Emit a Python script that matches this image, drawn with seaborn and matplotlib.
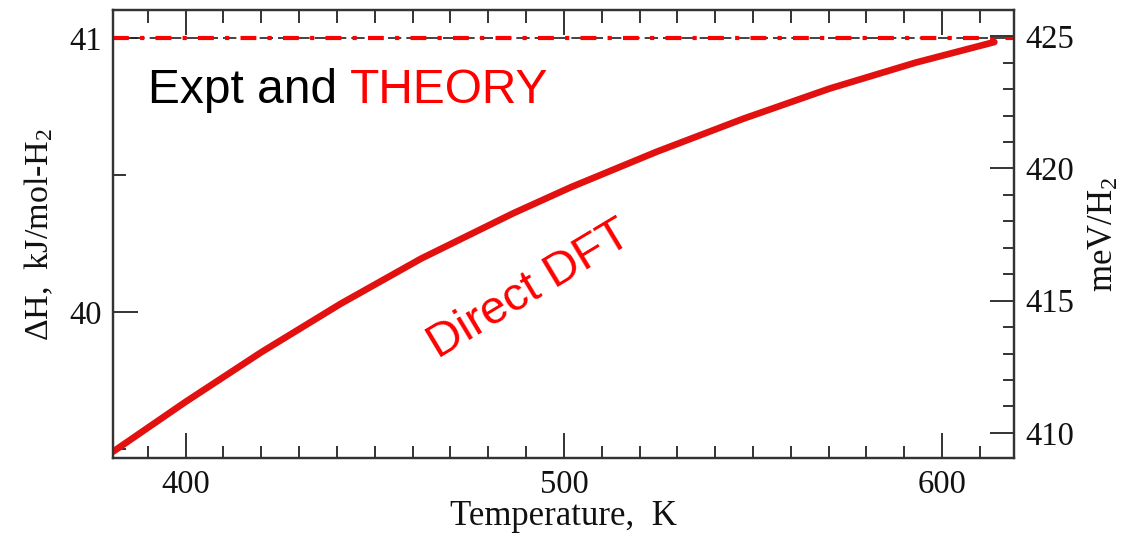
import numpy as np
import pandas as pd
import matplotlib
matplotlib.use("Agg")
import matplotlib.pyplot as plt
from matplotlib.ticker import MultipleLocator, FixedLocator
import seaborn as sns

# ---- data ----
temperature_K = [380.8, 400.0, 420.0, 441.0, 462.3, 486.6, 501.8, 524.6, 547.4, 570.2, 593.0, 613.8]
delta_h_kj = [39.49, 39.672, 39.853, 40.030, 40.195, 40.36, 40.455, 40.585, 40.705, 40.815, 40.91, 40.985]
expt_value_kj = 41.0
kj_to_mev = 10.3643  # 1 kJ/mol = 10.3643 meV per molecule
x_ticks = [400, 500, 600]
left_ticks = [40, 41]
right_ticks = [410, 415, 420, 425]

df = pd.DataFrame({"T": temperature_K, "dH": delta_h_kj})

sns.set_theme(style="ticks")
plt.rcParams["font.family"] = ["Liberation Serif", "DejaVu Serif"]
plt.rcParams["mathtext.fontset"] = "custom"
plt.rcParams["mathtext.rm"] = "Liberation Serif"
plt.rcParams["mathtext.it"] = "Liberation Serif:italic"

fig = plt.figure(figsize=(11.27, 5.42), dpi=100)
ax = fig.add_axes([113 / 1127, 1 - 458 / 542, (1014 - 113) / 1127, 448 / 542])

spine_col = "#333333"
xlim = (380.8, 619.0)
ylim = (39.467, 41.102)

# reference lines at 41
ax.axhline(expt_value_kj, color="#222222", lw=1.2, dashes=(8, 3), zorder=2)
ax.axhline(expt_value_kj, color="#ff0000", lw=3.0, dashes=(3.8, 2.7, 1.0, 2.7), zorder=3)

sns.lineplot(data=df, x="T", y="dH", ax=ax, color="#e31010", lw=4.8, zorder=4)

ax.set_xlim(*xlim)
ax.set_ylim(*ylim)
ax.xaxis.set_major_locator(FixedLocator(x_ticks))
ax.xaxis.set_minor_locator(MultipleLocator(10))
ax.yaxis.set_major_locator(FixedLocator(left_ticks))
ax.yaxis.set_minor_locator(MultipleLocator(0.5))

for s in ax.spines.values():
    s.set_color(spine_col)
    s.set_linewidth(1.6)

ax.tick_params(which="both", direction="in", top=True, right=False, color=spine_col, width=1.4,
               labelsize=23.5, labelcolor="#111111")
ax.tick_params(which="major", length=18, pad=8)
ax.tick_params(which="minor", length=9)

ax.set_xlabel("Temperature,  K", fontsize=25, color="#111111", labelpad=0)
ax.set_ylabel("ΔH,  kJ/mol-H$_2$", fontsize=24.5, color="#111111", labelpad=10)

ax2 = ax.twinx()
ax2.set_ylim(ylim[0] * kj_to_mev, ylim[1] * kj_to_mev)
ax2.yaxis.set_major_locator(FixedLocator(right_ticks))
ax2.yaxis.set_minor_locator(MultipleLocator(1))
ax2.tick_params(which="both", direction="in", color=spine_col, width=1.4, labelsize=23.5,
                labelcolor="#111111")
ax2.tick_params(which="major", length=17, pad=8)
ax2.tick_params(which="minor", length=8)
for s in ax2.spines.values():
    s.set_color(spine_col)
    s.set_linewidth(1.6)
ax2.set_ylabel("meV/H$_2$", fontsize=25, color="#111111", labelpad=10)

# annotations
sans = ["Liberation Sans", "DejaVu Sans"]
fig.text(148 / 1127, 1 - 103 / 542, "Expt and", family=sans, fontsize=34.5, color="black",
         ha="left", va="baseline")
fig.text(350 / 1127, 1 - 103 / 542, "THEORY", family=sans, fontsize=34.5, color="#ff0000",
         ha="left", va="baseline")
ax.text(491, 40.08, "Direct DFT", family=sans, fontsize=34, color="#ff0000", rotation=31,
        ha="center", va="center", rotation_mode="anchor")

fig.savefig("out.png", dpi=100)
